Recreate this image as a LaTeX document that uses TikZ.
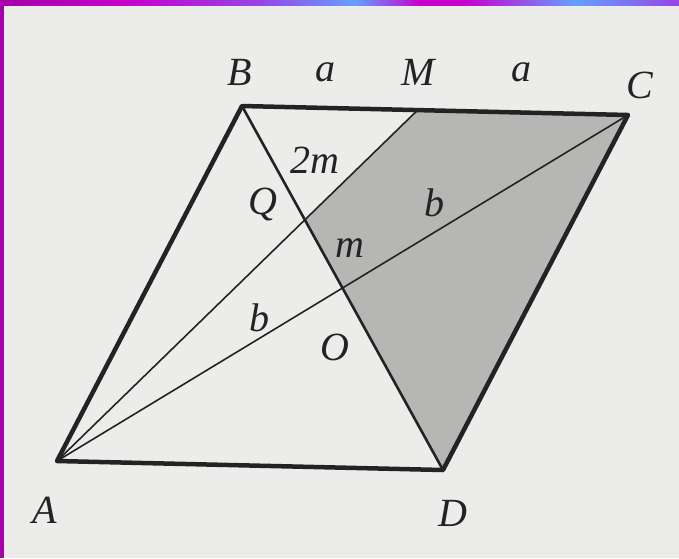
\documentclass[tikz,border=0pt]{standalone}
\usepackage{fontspec}
\setmainfont{Liberation Serif}
\usetikzlibrary{calc,intersections}
\definecolor{bg}{RGB}{236,236,234}
\definecolor{regiongray}{RGB}{182,182,180}
\definecolor{ink}{RGB}{35,35,35}
\definecolor{mag}{RGB}{200,0,205}
\definecolor{magdark}{RGB}{165,0,170}
\definecolor{vio}{RGB}{150,70,230}
\definecolor{sky}{RGB}{100,160,255}
\tikzset{
  lbl/.style={font=\fontsize{40}{48}\selectfont\itshape, text=ink, inner sep=0pt},
  side/.style={draw=ink, line width=4.5pt, line join=round, line cap=round},
  diag/.style={draw=ink, line width=2.6pt},
  thin/.style={draw=ink, line width=1.6pt}
}
\begin{document}
\begin{tikzpicture}[x=1pt,y=-1pt]
\useasboundingbox (0,0) rectangle (679,558);
\fill[bg] (0,0) rectangle (679,558);
% frame
\shade[left color=magdark, right color=mag] (0,0) rectangle (130,5);
\shade[left color=mag, right color=vio] (130,0) rectangle (260,5);
\shade[left color=vio, right color=sky] (260,0) rectangle (355,5);
\shade[left color=sky, right color=mag] (355,0) rectangle (420,5);
\shade[left color=mag, right color=mag] (419,0) rectangle (466,5);
\shade[left color=mag, right color=sky] (465,0) rectangle (575,5);
\shade[left color=sky, right color=vio] (575,0) rectangle (679,5);
\fill[magdark] (0,0) rectangle (4,558);
% vertices
\coordinate (A) at (57,461);
\coordinate (B) at (242,106);
\coordinate (D) at (443,470);
\coordinate (C) at ($(B)+(D)-(A)$);
\coordinate (M) at ($(B)!0.455!(C)$);
\coordinate (O) at ($(B)!0.5!(D)$);
\coordinate (Q) at (intersection of A--M and B--D);
% shaded region
\fill[regiongray] (M) -- (C) -- (D) -- (Q) -- cycle;
% lines
\draw[thin] (A) -- (M);
\draw[thin] (A) -- (C);
\draw[diag] (B) -- (D);
\draw[side] (A) -- (B) -- (C) -- (D) -- cycle;
% labels
\node[lbl] (lA) at (45,510) {A};
\node[lbl] (lB) at (240,72) {B};
\node[lbl] (lC) at (640,85) {C};
\node[lbl] (lD) at (453,513) {D};
\node[lbl] (lM) at (418,72) {M};
\node[lbl] (la1) at (325,72) {a};
\node[lbl] (la2) at (521,72) {a};
\node[lbl] (l2m) at (315,160) {2m};
\node[lbl] (lQ) at (263,204) {Q};
\node[lbl] (lm) at (350,248) {m};
\node[lbl] (lb1) at (434,203) {b};
\node[lbl] (lb2) at (259,318) {b};
\node[lbl] (lO) at (335,347) {O};
\end{tikzpicture}
\end{document}
